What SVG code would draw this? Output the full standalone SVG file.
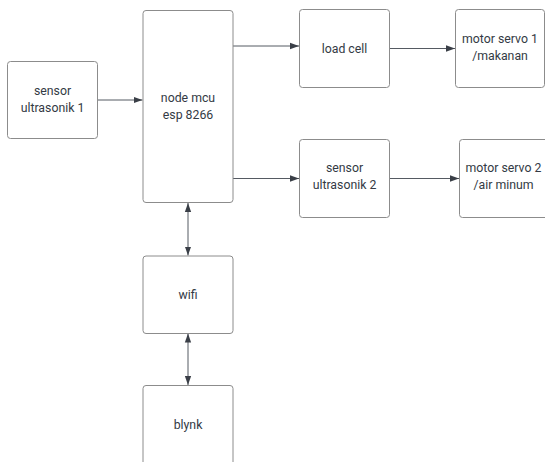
<svg xmlns="http://www.w3.org/2000/svg" width="545" height="462" viewBox="0 0 545 462">
<style>
.box{fill:#fff;stroke:#8c8c8c;stroke-width:1}
.lbl{font-family:Roboto,"Liberation Sans",Arial,sans-serif;font-size:12.3px;fill:#333a44;text-anchor:middle}
.con{stroke:#555a62;stroke-width:1;fill:none}
</style>
<defs>
<marker id="ah" viewBox="0 0 10 10" refX="10" refY="5" markerWidth="9" markerHeight="9" markerUnits="userSpaceOnUse" orient="auto-start-reverse">
<path d="M0,1.5 L10,5 L0,8.5 Z" fill="#3a3f47"/>
</marker>
</defs>
<rect width="545" height="462" fill="#fff"/>
<g id="connectors">
<line class="con" x1="97.5" y1="100" x2="142.5" y2="100" marker-end="url(#ah)"/>
<line class="con" x1="233" y1="46" x2="299" y2="46" marker-end="url(#ah)"/>
<line class="con" x1="389.5" y1="48.5" x2="455" y2="48.5" marker-end="url(#ah)"/>
<line class="con" x1="233" y1="178.5" x2="299" y2="178.5" marker-end="url(#ah)"/>
<line class="con" x1="389.5" y1="178.5" x2="459" y2="178.5" marker-end="url(#ah)"/>
<line class="con" x1="188" y1="203" x2="188" y2="255.5" marker-start="url(#ah)" marker-end="url(#ah)"/>
<line class="con" x1="188" y1="333.5" x2="188" y2="385" marker-start="url(#ah)" marker-end="url(#ah)"/>
</g>
<g id="sensor1">
<rect class="box" x="7.5" y="61.5" width="90" height="77" rx="3"/>
<text class="lbl" x="52.5" y="95">sensor</text>
<text class="lbl" x="52.5" y="112">ultrasonik 1</text>
</g>
<g id="nodemcu">
<rect class="box" x="143" y="10.5" width="90" height="192" rx="3"/>
<text class="lbl" x="188" y="102">node mcu</text>
<text class="lbl" x="188" y="119">esp 8266</text>
</g>
<g id="loadcell">
<rect class="box" x="299.5" y="9.5" width="90" height="78" rx="3"/>
<text class="lbl" x="344.5" y="52.5">load cell</text>
</g>
<g id="servo1">
<rect class="box" x="455.5" y="9.5" width="89" height="78" rx="3"/>
<text class="lbl" x="500" y="42.5">motor servo 1</text>
<text class="lbl" x="500" y="59.5">/makanan</text>
</g>
<g id="sensor2">
<rect class="box" x="299.5" y="139.5" width="90" height="78" rx="3"/>
<text class="lbl" x="344.5" y="172">sensor</text>
<text class="lbl" x="344.5" y="189">ultrasonik 2</text>
</g>
<g id="servo2">
<rect class="box" x="459.5" y="139.5" width="89" height="78" rx="3"/>
<text class="lbl" x="503.5" y="172">motor servo 2</text>
<text class="lbl" x="503.5" y="189">/air minum</text>
</g>
<g id="wifi">
<rect class="box" x="143" y="256" width="90" height="77.5" rx="3"/>
<text class="lbl" x="188" y="299">wifi</text>
</g>
<g id="blynk">
<rect class="box" x="143" y="385.5" width="90" height="90" rx="3"/>
<text class="lbl" x="188" y="428.5">blynk</text>
</g>
</svg>
